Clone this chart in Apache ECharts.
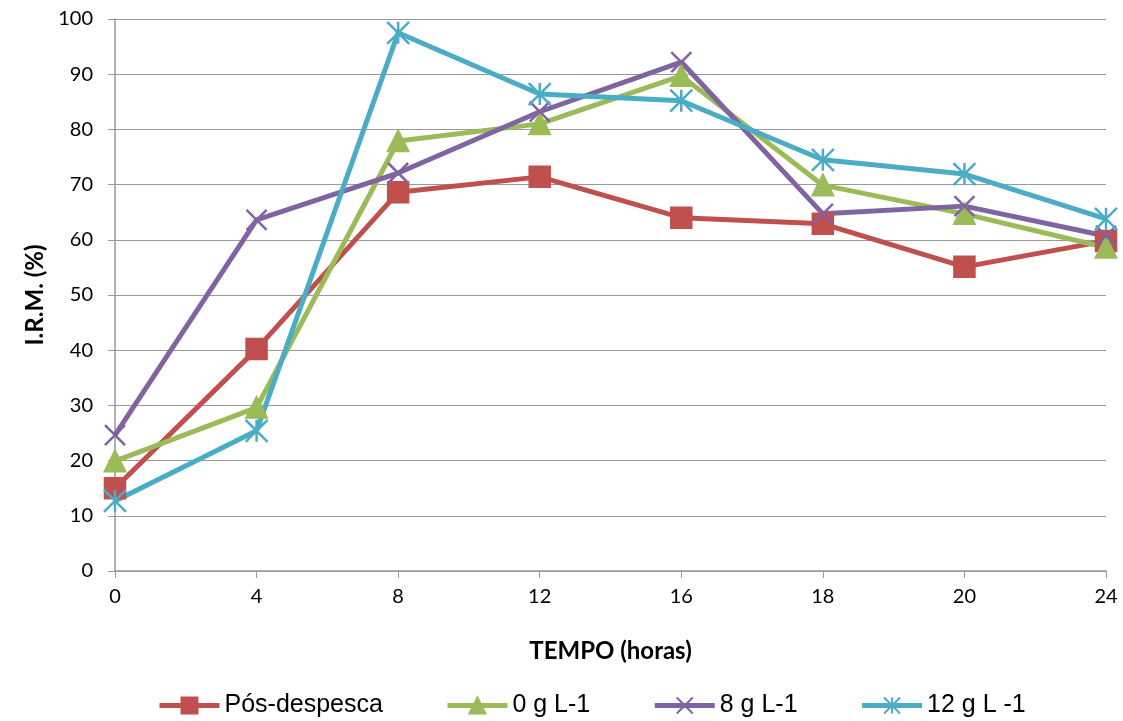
<!DOCTYPE html>
<html>
<head>
<meta charset="utf-8">
<script src="https://cdn.jsdelivr.net/npm/echarts@6/dist/echarts.min.js"></script>
<style>
  html, body { margin: 0; padding: 0; background: #fff; }
  #chart { width: 1123px; height: 721px; }
</style>
</head>
<body>
<div id="chart"></div>
<script>
// dados
let horas = ['0', '4', '8', '12', '16', '18', '20', '24'];
let posDespesca = [15.0, 40.2, 68.6, 71.4, 64.0, 62.9, 55.1, 59.8];
let g0 = [19.9, 29.6, 77.9, 81.0, 89.7, 69.9, 64.7, 58.6];
let g8 = [24.6, 63.6, 72.1, 83.2, 92.2, 64.7, 66.1, 60.7];
let g12 = [12.7, 25.4, 97.5, 86.4, 85.2, 74.5, 71.9, 63.8];

let nomes = ['Pós-despesca', '0 g L-1', '8 g L-1', '12 g L -1'];
let cores = ['#C0504D', '#9BBB59', '#8064A2', '#4BACC6'];

let simboloX = 'path://M0,0L10,10M10,0L0,10';
let simboloAst = 'path://M5,0L5,10M0,0L10,10M10,0L0,10';

function serie(nome, dados, cor, simbolo, tam) {
    return {
        name: nome,
        type: 'line',
        data: dados,
        symbol: simbolo,
        symbolSize: tam,
        showAllSymbol: true,
        lineStyle: { color: cor, width: 5 },
        itemStyle: { color: cor, borderColor: cor, borderWidth: 2.5 },
        emphasis: { disabled: true }
    };
}

let myChart = echarts.init(document.getElementById('chart'));

let option = {
    animation: false,
    color: cores,
    grid: {
        left: 115,
        right: 17,
        top: 19,
        bottom: 150
    },
    legend: {
        bottom: -2,
        left: 152,
        itemWidth: 60,
        itemHeight: 20,
        itemGap: 62,
        lineStyle: { width: 5 },
        textStyle: { fontFamily: 'Liberation Sans', fontSize: 25, color: '#000' },
        data: nomes
    },
    xAxis: {
        type: 'category',
        data: horas,
        boundaryGap: false,
        name: 'TEMPO (horas)',
        nameLocation: 'middle',
        nameGap: 68,
        nameTextStyle: { fontFamily: 'Lato', fontWeight: 'bold', fontSize: 24, color: '#000' },
        axisLine: { lineStyle: { color: '#999', width: 1.5 } },
        axisTick: { show: true, alignWithLabel: true, length: 7, lineStyle: { color: '#999' } },
        axisLabel: { fontFamily: 'Lato', fontSize: 20, color: '#000', margin: 16 },
        splitLine: { show: false }
    },
    yAxis: {
        type: 'value',
        min: 0,
        max: 100,
        interval: 10,
        name: 'I.R.M. (%)',
        nameLocation: 'middle',
        nameGap: 62,
        nameTextStyle: { fontFamily: 'Lato', fontWeight: 'bold', fontSize: 24, color: '#000' },
        axisLine: { show: true, lineStyle: { color: '#999', width: 1.5 } },
        axisTick: { show: true, length: 7, lineStyle: { color: '#999' } },
        axisLabel: { fontFamily: 'Lato', fontSize: 20, color: '#000', margin: 22 },
        splitLine: { lineStyle: { color: '#999', width: 1.2 } }
    },
    series: [
        serie(nomes[0], posDespesca, cores[0], 'rect', 20),
        serie(nomes[1], g0, cores[1], 'triangle', 20),
        serie(nomes[2], g8, cores[2], simboloX, 20),
        serie(nomes[3], g12, cores[3], simboloAst, 22)
    ]
};

myChart.setOption(option);
</script>
</body>
</html>
